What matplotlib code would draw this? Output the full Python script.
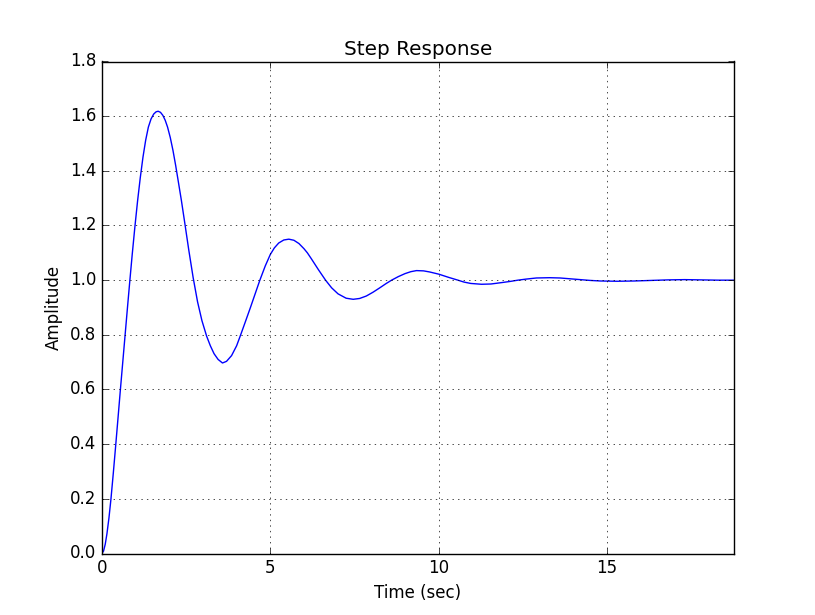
import matplotlib
matplotlib.use("Agg")
import matplotlib.pyplot as plt

# step response values
time_sec = [0.00, 0.05, 0.10, 0.15, 0.21, 0.27, 0.34, 0.41, 0.48, 0.55,
            0.62, 0.69, 0.76, 0.83, 0.90, 0.98, 1.06, 1.14, 1.22, 1.30,
            1.38, 1.46, 1.54, 1.61, 1.67, 1.74, 1.81, 1.88, 1.95, 2.03,
            2.11, 2.19, 2.27, 2.36, 2.46, 2.58, 2.71, 2.84, 2.97, 3.11,
            3.22, 3.33, 3.45, 3.58, 3.70, 3.85, 4.00, 4.12, 4.26, 4.41,
            4.55, 4.69, 4.85, 5.00, 5.12, 5.25, 5.40, 5.55, 5.70, 5.85,
            6.00, 6.10, 6.22, 6.43, 6.64, 6.82, 7.01, 7.25, 7.46, 7.65,
            7.85, 8.05, 8.25, 8.43, 8.60, 8.80, 9.00, 9.17, 9.34, 9.55,
            9.73, 10.00, 10.30, 10.57, 10.75, 10.95, 11.27, 11.55, 11.80, 12.10,
            12.35, 12.60, 12.90, 13.29, 13.60, 13.90, 14.20, 14.50, 14.80, 15.30,
            15.80, 16.30, 16.80, 17.30, 17.80, 18.30, 18.75]
amplitude = [0.000, 0.009, 0.034, 0.072, 0.130, 0.200, 0.295, 0.395, 0.497, 0.600,
             0.700, 0.800, 0.900, 0.998, 1.093, 1.195, 1.290, 1.375, 1.450, 1.512,
             1.560, 1.590, 1.608, 1.616, 1.618, 1.614, 1.603, 1.585, 1.560, 1.522,
             1.475, 1.420, 1.360, 1.292, 1.210, 1.110, 1.009, 0.921, 0.852, 0.795,
             0.760, 0.731, 0.710, 0.697, 0.703, 0.724, 0.760, 0.800, 0.848, 0.900,
             0.950, 1.000, 1.052, 1.094, 1.118, 1.136, 1.147, 1.150, 1.146, 1.134,
             1.115, 1.100, 1.078, 1.038, 1.000, 0.972, 0.950, 0.934, 0.930, 0.933,
             0.942, 0.956, 0.972, 0.987, 1.000, 1.013, 1.024, 1.031, 1.035, 1.034,
             1.030, 1.022, 1.010, 1.000, 0.993, 0.988, 0.985, 0.986, 0.990, 0.995,
             1.000, 1.004, 1.008, 1.009, 1.008, 1.005, 1.002, 0.999, 0.997, 0.996,
             0.997, 0.999, 1.001, 1.002, 1.001, 1.000, 1.000]

plt.style.use("classic")
fig = plt.figure(figsize=(8.15, 6.15), dpi=100)
ax = fig.add_subplot(111)
ax.plot(time_sec, amplitude, color="b", linewidth=1.0)
ax.set_xlim(0, time_sec[-1])
ax.set_ylim(0, 1.8)
ax.set_title("Step Response")
ax.set_xlabel("Time (sec)")
ax.set_ylabel("Amplitude")
ax.grid(True)
fig.savefig("out.png", dpi=100)
